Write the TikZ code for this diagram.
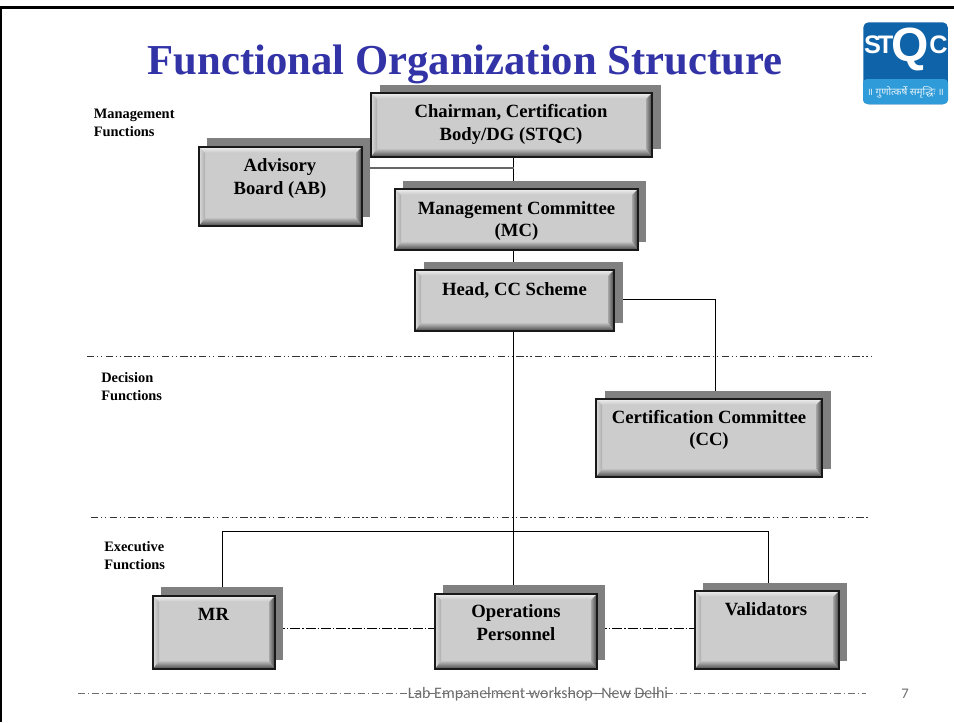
\documentclass[tikz,border=0pt]{standalone}
\usepackage{fontspec}
\setmainfont{Liberation Serif}
\newfontfamily\footfont{Carlito}
\newfontfamily\logosans{Liberation Sans}
\newfontfamily\devfont[Script=Devanagari]{Noto Sans}
\definecolor{titleblue}{HTML}{3333A8}
\definecolor{logoblue}{HTML}{0F63A8}
\definecolor{logoband}{HTML}{2F9BD8}
\definecolor{shadowgray}{HTML}{808080}
\definecolor{faceg}{HTML}{CCCCCC}
\definecolor{footgray}{HTML}{6E6E6E}
\pgfdeclarelayer{paper}
\pgfdeclarelayer{links}
\pgfsetlayers{paper,links,main}
\tikzset{
  boxlabel/.style={font=\bfseries\fontsize{14pt}{17pt}\selectfont,align=center,text=black,inner sep=0pt},
  sidelabel/.style={font=\bfseries\fontsize{10.8pt}{13.4pt}\selectfont,align=left,anchor=north west,text=black,inner sep=0pt},
  conn/.style={draw=black,line width=0.7pt},
  graylink/.style={draw=black!60,line width=1pt},
  dashdot/.style={draw=black!80,line width=0.7pt,dash pattern=on 5.5pt off 2pt on 1pt off 2pt on 1pt off 2.5pt},
  dotlink/.style={draw=black,line width=0.6pt,dash pattern=on 7.5pt off 1.5pt on 1pt off 1.5pt},
  footline/.style={draw=footgray,line width=0.6pt,dash pattern=on 5.5pt off 2pt on 1pt off 2pt},
  logoletter/.style={text=white,inner sep=0pt},
}
% \bevbox{name}{x1}{y1}{x2}{y2}{shadow dx}{shadow dy}
\newcommand{\bevbox}[7]{%
  \fill[shadowgray] (#2+#6,#3+#7) rectangle (#4+#6,#5+#7);
  \fill[faceg] (#2,#3) rectangle (#4,#5);
  \shade[top color=white!94!black,bottom color=black!22] (#2,#3) -- (#4,#3) -- (#4-6,#3+6) -- (#2+6,#3+6) -- cycle;
  \shade[left color=white!86!black,right color=black!32] (#2,#3) -- (#2+6,#3+6) -- (#2+6,#5-8) -- (#2,#5) -- cycle;
  \shade[left color=black!35,right color=black!75] (#4,#3) -- (#4-6,#3+6) -- (#4-6,#5-8) -- (#4,#5) -- cycle;
  \shade[top color=black!25,bottom color=black!72] (#2,#5) -- (#2+6,#5-8) -- (#4-6,#5-8) -- (#4,#5) -- cycle;
  \node[draw=black!90,line width=1.1pt,fill=none,inner sep=0pt,outer sep=0pt,
        minimum width={(#4-#2)*0.75pt},minimum height={(#5-#3)*0.75pt},anchor=north west] (#1) at (#2,#3) {};
}
\begin{document}
\begin{tikzpicture}[x=0.75pt,y=-0.75pt]
\useasboundingbox (0,0) rectangle (954,722);
\begin{pgfonlayer}{paper}
\fill[white] (0,0) rectangle (954,722);
\end{pgfonlayer}
% slide frame
\fill[black] (0,6) rectangle (954,8.5);
\fill[black] (0,6) rectangle (2,722);
% title
\node[font=\bfseries\fontsize{32pt}{36pt}\selectfont,text=titleblue,inner sep=0pt] (title) at (465,64) {Functional Organization Structure};
% logo
\node[fill=logoblue,rounded corners=4pt,minimum width=63.5pt,minimum height=61.5pt,inner sep=0pt,anchor=north west] (logo) at (863,22) {};
\fill[logoband,rounded corners=3pt] (863,79) rectangle (948,104);
\node[logoletter,font=\logosans\bfseries\fontsize{19pt}{19pt}\selectfont] (logoS) at (872.5,45) {S};
\node[logoletter,font=\logosans\bfseries\fontsize{19pt}{19pt}\selectfont] (logoT) at (885.5,45) {T};
\node[logoletter,font=\logosans\bfseries\fontsize{36pt}{36pt}\selectfont] (logoQ) at (910,49) {Q};
\node[logoletter,font=\logosans\bfseries\fontsize{19pt}{19pt}\selectfont] (logoC) at (938.5,45) {C};
\node[font=\devfont\fontsize{7.5pt}{8pt}\selectfont,text=white!88!logoband,inner sep=0pt] (logomotto) at (905.5,92) {॥ गुणोत्कर्षे समृद्धिः ॥};
% dash-dot separators
\coordinate (sepAl) at (87,356); \coordinate (sepAr) at (872,356);
\coordinate (sepBl) at (91,517); \coordinate (sepBr) at (870,517);
\coordinate (footl) at (78,693); \coordinate (footr) at (866,693);
\begin{pgfonlayer}{links}
\draw[dashdot] (sepAl) -- (sepAr);
\draw[dashdot] (sepBl) -- (sepBr);
\end{pgfonlayer}
% boxes
\bevbox{chair}{371}{93}{652}{157}{8.5}{-8.5}
\bevbox{ab}{199}{147}{362}{226}{8}{-9}
\bevbox{mc}{395}{189}{638}{250}{8}{-8.5}
\bevbox{head}{415}{270}{614}{331}{8.5}{-8.5}
\bevbox{cc}{596}{399}{822}{477}{8.5}{-8}
\bevbox{mr}{153}{596}{275}{669}{8}{-9}
\bevbox{ops}{435}{594}{597}{669}{8}{-9}
\bevbox{val}{695}{591}{839}{669}{7.5}{-8.5}
% labels in boxes
\node[boxlabel] (chairT) at (511,124.5) {Chairman, Certification\\Body/DG (STQC)};
\node[boxlabel] (abT) at (280,178.5) {Advisory\\Board (AB)};
\node[boxlabel] (mcT) at (516.5,221) {Management Committee\\(MC)};
\node[boxlabel] (headT) at (514.5,290) {Head, CC Scheme};
\node[boxlabel] (ccT) at (709,430) {Certification Committee\\(CC)};
\node[boxlabel] (mrT) at (213.5,614.5) {MR};
\node[boxlabel] (opsT) at (516,622.5) {Operations\\Personnel};
\node[boxlabel] (valT) at (766,609.5) {Validators};
% connectors (behind the boxes and their shadows)
\coordinate (spine) at (513.5,0);
\coordinate (abJ) at (513.5,168);
\coordinate (ccBend) at (715.5,299);
\coordinate (busL) at (222,531);
\coordinate (busR) at (768.5,531);
\coordinate (lowlink) at (0,628);
\begin{pgfonlayer}{links}
\draw[conn] (chair.south -| spine) -- (mc.north -| spine);
\draw[graylink] (ab.east |- abJ) -- (abJ);
\draw[conn] (mc.south -| spine) -- (head.north -| spine);
\draw[conn] (head.south -| spine) -- (ops.north -| spine);
\draw[conn] (head.east |- ccBend) -- (ccBend) -- (cc.north -| ccBend);
\draw[conn] (mr.north -| busL) -- (busL) -- (busR) -- (val.north -| busR);
\draw[dotlink] (mr.east |- lowlink) -- (ops.west |- lowlink);
\draw[dotlink] (ops.east |- lowlink) -- (val.west |- lowlink);
\end{pgfonlayer}
% side labels
\node[sidelabel] (mgmt) at (93.5,109) {Management\\Functions};
\node[sidelabel] (dec) at (101,372.5) {Decision\\Functions};
\node[sidelabel] (exec) at (104,541) {Executive\\Functions};
% footer
\draw[footline] (footl) -- (footr);
\node[font=\footfont\fontsize{12pt}{13pt}\selectfont,text=footgray,inner sep=0pt] (foot) at (538,694) {Lab Empanelment workshop- New Delhi};
\node[font=\footfont\fontsize{11pt}{12pt}\selectfont,text=footgray,inner sep=0pt] (pageno) at (905,693.5) {7};
\end{tikzpicture}
\end{document}
